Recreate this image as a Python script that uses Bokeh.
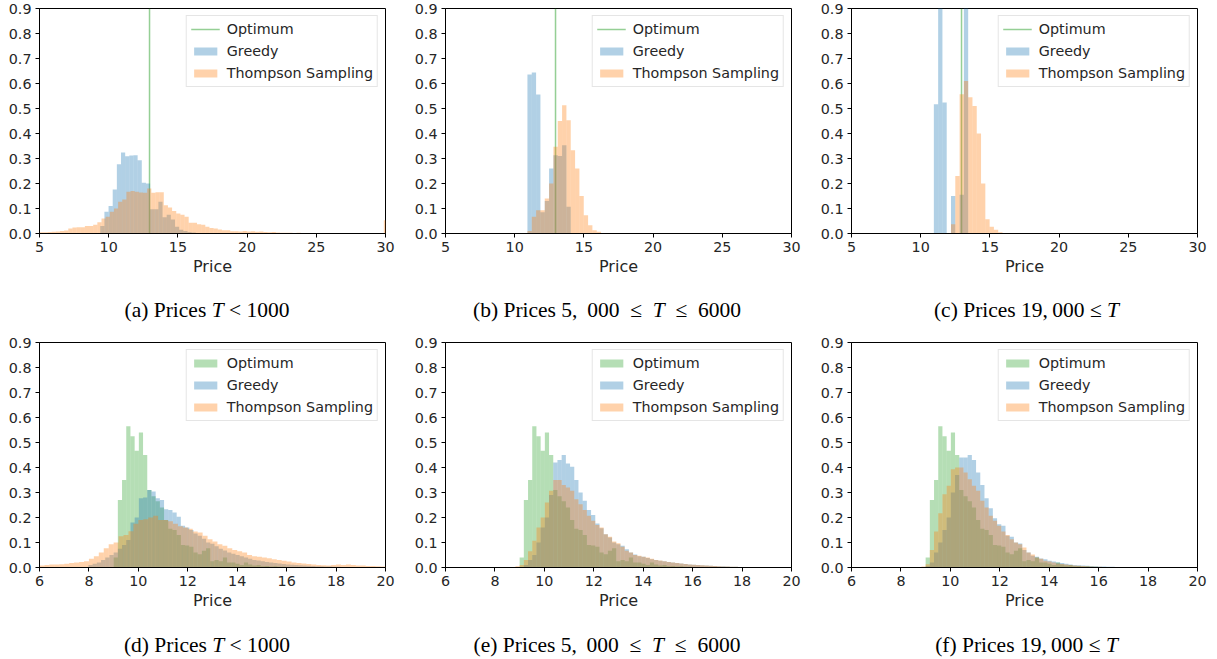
import numpy as np
from bokeh.plotting import figure
from bokeh.layouts import column, row
from bokeh.models import Div, FixedTicker, PrintfTickFormatter, Range1d
from bokeh.embed import file_html
from bokeh.resources import INLINE

# ---------------- data ----------------
SERIES = ["Optimum", "Greedy", "Thompson Sampling"]
SERIES_COLORS = ["#2ca02c", "#1f77b4", "#ff7f0e"]
X_LABEL = "Price"
Y_TICKS = [0.0, 0.1, 0.2, 0.3, 0.4, 0.5, 0.6, 0.7, 0.8, 0.9]
TOP_X_TICKS = [5, 10, 15, 20, 25, 30]
BOTTOM_X_TICKS = [6, 8, 10, 12, 14, 16, 18, 20]
CAPTION_LETTERS = ["a", "b", "c", "d", "e", "f"]
CAPTION_CONDITIONS = [
    "<i>T</i> &lt; 1000",
    "5,&thinsp; 000&ensp;&le;&ensp;<i>T</i>&ensp;&le;&ensp;6000",
    "19,&thinsp;000 &le; <i>T</i>",
    "<i>T</i> &lt; 1000",
    "5,&thinsp; 000&ensp;&le;&ensp;<i>T</i>&ensp;&le;&ensp;6000",
    "19,&thinsp;000 &le; <i>T</i>",
]
OPTIMUM_PRICE = 12.95

# panel (a): T < 1000  (first bin edge, bin width, densities)
A_GREEDY_START, A_GREEDY_WIDTH = 9.39, 0.3
A_GREEDY = [0.03, 0.087, 0.11, 0.176, 0.277, 0.324, 0.309, 0.312, 0.313, 0.293,
            0.203, 0.2, 0.097, 0.097, 0.127, 0.065, 0.075, 0.056, 0.027, 0.015,
            0.01, 0.006, 0.004, 0.002]
A_TS_START, A_TS_WIDTH = 4.98, 0.3
A_TS = [0.005, 0.005, 0.006, 0.007, 0.008, 0.01, 0.012, 0.02, 0.024, 0.025,
        0.025, 0.03, 0.03, 0.035, 0.045, 0.06, 0.067, 0.087, 0.1, 0.127,
        0.136, 0.167, 0.17, 0.167, 0.164, 0.163, 0.18, 0.163, 0.165, 0.165,
        0.113, 0.104, 0.09, 0.08, 0.075, 0.067, 0.043, 0.043, 0.037, 0.035,
        0.027, 0.022, 0.02, 0.016, 0.013, 0.013, 0.009, 0.009, 0.008, 0.01,
        0.008, 0.009, 0.007, 0.008, 0.006, 0.005, 0.006, 0.004, 0.003, 0.003,
        0.003, 0.002, 0.003, 0.002, 0.002, 0.001, 0.002, 0.001, 0.001, 0.001,
        0.001, 0.001, 0.001, 0.001, 0.001, 0.001, 0.001, 0.001, 0.001, 0.001,
        0.001, 0.001, 0.001, 0.053]

# panel (b): 5,000 <= T <= 6000
B_GREEDY_START, B_GREEDY_WIDTH = 10.92, 0.313
B_GREEDY = [0.636, 0.644, 0.556, 0.085, 0.13, 0.26, 0.313, 0.31, 0.353, 0.107]
B_TS_START, B_TS_WIDTH = 10.92, 0.313
B_TS = [0.01, 0.067, 0.093, 0.093, 0.14, 0.2, 0.347, 0.45, 0.513, 0.453,
        0.333, 0.26, 0.15, 0.073, 0.033, 0.013, 0.007]

# panel (c): 19,000 <= T
C_GREEDY_START, C_GREEDY_WIDTH = 10.95, 0.31
C_GREEDY = [0.517, 1.0, 0.524, 0.0, 0.15, 0.0, 0.155, 1.0]
C_TS_START, C_TS_WIDTH = 12.19, 0.31
C_TS = [0.037, 0.23, 0.557, 0.61, 0.545, 0.51, 0.4, 0.2, 0.057, 0.027, 0.015, 0.005]

# bottom row: optimum price histogram (same in d, e, f)
OPT_START, OPT_WIDTH = 9.0, 0.17
OPT = [0.04, 0.27, 0.35, 0.565, 0.525, 0.467, 0.54, 0.45, 0.31, 0.285,
       0.265, 0.24, 0.19, 0.155, 0.15, 0.13, 0.09, 0.088, 0.083, 0.06,
       0.053, 0.067, 0.077, 0.025, 0.03, 0.025, 0.04, 0.02, 0.02, 0.015,
       0.01, 0.02, 0.012, 0.008, 0.01, 0.005, 0.006, 0.004, 0.005, 0.003,
       0.003, 0.002, 0.002, 0.001, 0.001, 0.001]

# panel (d)
D_GREEDY_START, D_GREEDY_WIDTH = 7.98, 0.17
D_GREEDY = [0.01, 0.015, 0.02, 0.03, 0.04, 0.05, 0.06, 0.075, 0.09, 0.11,
            0.18, 0.2, 0.277, 0.28, 0.31, 0.304, 0.277, 0.27, 0.233, 0.23,
            0.22, 0.203, 0.167, 0.16, 0.15, 0.136, 0.127, 0.115, 0.1, 0.095,
            0.085, 0.075, 0.068, 0.06, 0.055, 0.05, 0.045, 0.04, 0.035, 0.03,
            0.028, 0.025, 0.022, 0.02, 0.018, 0.016, 0.014, 0.012, 0.011, 0.01,
            0.009, 0.008, 0.007, 0.006, 0.005, 0.005, 0.004, 0.004, 0.003, 0.003,
            0.002, 0.002, 0.002]
D_TS_START, D_TS_WIDTH = 6.0, 0.2
D_TS = [0.008, 0.01, 0.012, 0.012, 0.013, 0.015, 0.018, 0.02, 0.022, 0.025,
        0.035, 0.045, 0.06, 0.077, 0.093, 0.1, 0.125, 0.13, 0.145, 0.175,
        0.19, 0.193, 0.2, 0.207, 0.19, 0.19, 0.185, 0.175, 0.165, 0.16,
        0.155, 0.144, 0.14, 0.127, 0.113, 0.104, 0.093, 0.087, 0.077, 0.07,
        0.065, 0.06, 0.05, 0.045, 0.043, 0.04, 0.037, 0.033, 0.03, 0.027,
        0.024, 0.02, 0.018, 0.016, 0.014, 0.012, 0.01, 0.009, 0.008, 0.01,
        0.012, 0.01, 0.012, 0.01, 0.008, 0.008, 0.006, 0.006, 0.005, 0.004]

# panel (e)
E_GREEDY_START, E_GREEDY_WIDTH = 9.0, 0.17
E_GREEDY = [0.0, 0.01, 0.03, 0.05, 0.1, 0.16, 0.2, 0.29, 0.42, 0.43,
            0.45, 0.416, 0.403, 0.35, 0.3, 0.267, 0.23, 0.21, 0.176, 0.157,
            0.133, 0.12, 0.1, 0.093, 0.087, 0.073, 0.06, 0.052, 0.045, 0.043,
            0.038, 0.033, 0.03, 0.027, 0.025, 0.022, 0.02, 0.018, 0.016, 0.014,
            0.012, 0.011, 0.01, 0.009, 0.008, 0.007, 0.006, 0.005, 0.005, 0.004,
            0.003, 0.003, 0.002, 0.002, 0.001, 0.001, 0.001, 0.001]
E_TS_START, E_TS_WIDTH = 8.83, 0.17
E_TS = [0.005, 0.01, 0.03, 0.065, 0.107, 0.16, 0.2, 0.26, 0.307, 0.35,
        0.35, 0.33, 0.32, 0.307, 0.273, 0.253, 0.23, 0.207, 0.187, 0.17,
        0.16, 0.133, 0.123, 0.104, 0.097, 0.083, 0.067, 0.06, 0.05, 0.047,
        0.043, 0.04, 0.035, 0.03, 0.028, 0.025, 0.022, 0.02, 0.018, 0.016,
        0.014, 0.012, 0.011, 0.01, 0.009, 0.008, 0.007, 0.006, 0.005, 0.004,
        0.004, 0.003, 0.003, 0.002, 0.002, 0.002, 0.001, 0.001, 0.001, 0.001, 0.001]

# panel (f)
F_GREEDY_START, F_GREEDY_WIDTH = 9.0, 0.17
F_GREEDY = [0.005, 0.02, 0.06, 0.1, 0.15, 0.2, 0.3, 0.37, 0.44, 0.44,
            0.45, 0.43, 0.38, 0.33, 0.277, 0.237, 0.197, 0.173, 0.167, 0.127,
            0.123, 0.1, 0.096, 0.07, 0.06, 0.047, 0.043, 0.036, 0.033, 0.027,
            0.024, 0.02, 0.018, 0.015, 0.012, 0.01, 0.009, 0.008, 0.007, 0.006,
            0.005, 0.004, 0.004, 0.003, 0.003, 0.002, 0.002, 0.002, 0.001, 0.001,
            0.001, 0.001, 0.001, 0.001]
F_TS_START, F_TS_WIDTH = 8.83, 0.17
F_TS = [0.004, 0.013, 0.07, 0.144, 0.217, 0.293, 0.327, 0.393, 0.4, 0.4,
        0.38, 0.353, 0.327, 0.307, 0.267, 0.24, 0.207, 0.187, 0.167, 0.144,
        0.13, 0.113, 0.1, 0.093, 0.08, 0.06, 0.052, 0.04, 0.035, 0.027,
        0.024, 0.02, 0.016, 0.014, 0.012, 0.01, 0.008, 0.007, 0.006, 0.005,
        0.004, 0.003, 0.003, 0.002, 0.002, 0.001, 0.001, 0.001]

# ---------------- style ----------------
FONT = "DejaVu Sans"
ALPHA = 0.35
FRAME_W, FRAME_H = 346, 225
CELL_W = [406, 406, 405]


def add_hist(p, start, width, values, color, label):
    v = np.asarray(values, dtype=float)
    left = start + width * np.arange(len(v))
    p.quad(left=left, right=left + width, bottom=np.zeros(len(v)), top=v,
           fill_color=color, fill_alpha=ALPHA, line_color=None, legend_label=label)


def make_fig(col, x_start, x_end, xticks):
    p = figure(frame_width=FRAME_W, frame_height=FRAME_H,
               x_range=Range1d(x_start, x_end), y_range=Range1d(0, 0.9),
               output_backend="svg", toolbar_location=None,
               min_border_left=39, min_border_right=CELL_W[col] - 39 - FRAME_W,
               min_border_top=8, min_border_bottom=50)
    p.xgrid.visible = False
    p.ygrid.visible = False
    p.outline_line_color = "black"
    p.outline_line_alpha = 1.0
    p.outline_line_width = 1
    p.background_fill_color = "white"
    p.border_fill_color = "white"
    p.xaxis.ticker = FixedTicker(ticks=xticks)
    p.xaxis.formatter = PrintfTickFormatter(format="%d")
    p.yaxis.ticker = FixedTicker(ticks=Y_TICKS)
    p.yaxis.formatter = PrintfTickFormatter(format="%.1f")
    for ax in (p.xaxis[0], p.yaxis[0]):
        ax.major_tick_out = 4
        ax.major_tick_in = 0
        ax.minor_tick_out = 0
        ax.minor_tick_in = 0
        ax.axis_line_color = "black"
        ax.major_tick_line_color = "black"
        ax.major_label_text_font = FONT
        ax.major_label_text_font_size = "14.3px"
        ax.major_label_text_color = "#262626"
        ax.major_label_standoff = 4
    p.xaxis.axis_label = X_LABEL
    p.xaxis.axis_label_text_font = FONT
    p.xaxis.axis_label_text_font_size = "16px"
    p.xaxis.axis_label_text_font_style = "normal"
    p.xaxis.axis_label_text_color = "#262626"
    p.xaxis.axis_label_standoff = 2
    return p


def style_legend(p):
    lg = p.legend[0]
    lg.location = "top_right"
    lg.margin = 7
    lg.padding = 4
    lg.spacing = 4
    lg.label_height = 18
    lg.glyph_height = 10
    lg.glyph_width = 29
    lg.label_standoff = 7
    lg.label_text_font = FONT
    lg.label_text_font_size = "14.3px"
    lg.label_text_color = "#262626"
    lg.border_line_color = "#cccccc"
    lg.border_line_width = 1
    lg.background_fill_alpha = 0.8


def caption(idx, height, pad_top):
    col = idx % 3
    w = CELL_W[col]
    shift = [4, -2, 12][col]
    pl = max(shift, 0) * 2
    pr = max(-shift, 0) * 2
    html = (f'<div style="width:{w}px;height:{height}px;box-sizing:border-box;'
            f'padding-top:{pad_top}px;padding-left:{pl}px;padding-right:{pr}px;'
            f'text-align:center;font-family:\'Liberation Serif\',serif;font-size:21.5px;'
            f'line-height:24px;color:black;white-space:nowrap;">'
            f'({CAPTION_LETTERS[idx]}) Prices {CAPTION_CONDITIONS[idx]}</div>')
    return Div(text=html, width=w, height=height, margin=0)


top_specs = [
    (A_GREEDY_START, A_GREEDY_WIDTH, A_GREEDY, A_TS_START, A_TS_WIDTH, A_TS),
    (B_GREEDY_START, B_GREEDY_WIDTH, B_GREEDY, B_TS_START, B_TS_WIDTH, B_TS),
    (C_GREEDY_START, C_GREEDY_WIDTH, C_GREEDY, C_TS_START, C_TS_WIDTH, C_TS),
]
bottom_specs = [
    (D_GREEDY_START, D_GREEDY_WIDTH, D_GREEDY, D_TS_START, D_TS_WIDTH, D_TS),
    (E_GREEDY_START, E_GREEDY_WIDTH, E_GREEDY, E_TS_START, E_TS_WIDTH, E_TS),
    (F_GREEDY_START, F_GREEDY_WIDTH, F_GREEDY, F_TS_START, F_TS_WIDTH, F_TS),
]

top_figs = []
for col, (gs, gw, gv, ts, tw, tv) in enumerate(top_specs):
    p = make_fig(col, TOP_X_TICKS[0], TOP_X_TICKS[-1], TOP_X_TICKS)
    p.line(x=[OPTIMUM_PRICE, OPTIMUM_PRICE], y=[Y_TICKS[0], Y_TICKS[-1]],
           line_color=SERIES_COLORS[0], line_alpha=0.5, line_width=1.5,
           legend_label=SERIES[0])
    add_hist(p, gs, gw, gv, SERIES_COLORS[1], SERIES[1])
    add_hist(p, ts, tw, tv, SERIES_COLORS[2], SERIES[2])
    style_legend(p)
    top_figs.append(p)

bottom_figs = []
for col, (gs, gw, gv, ts, tw, tv) in enumerate(bottom_specs):
    p = make_fig(col, BOTTOM_X_TICKS[0], BOTTOM_X_TICKS[-1], BOTTOM_X_TICKS)
    add_hist(p, OPT_START, OPT_WIDTH, OPT, SERIES_COLORS[0], SERIES[0])
    add_hist(p, gs, gw, gv, SERIES_COLORS[1], SERIES[1])
    add_hist(p, ts, tw, tv, SERIES_COLORS[2], SERIES[2])
    style_legend(p)
    bottom_figs.append(p)

layout = column(
    row(*top_figs, spacing=0),
    row(*[caption(i, 51, 15) for i in range(3)], spacing=0),
    row(*bottom_figs, spacing=0),
    row(*[caption(i, 42, 16) for i in range(3, 6)], spacing=0),
    spacing=0,
)

open("out.html", "w").write(file_html(layout, INLINE))
